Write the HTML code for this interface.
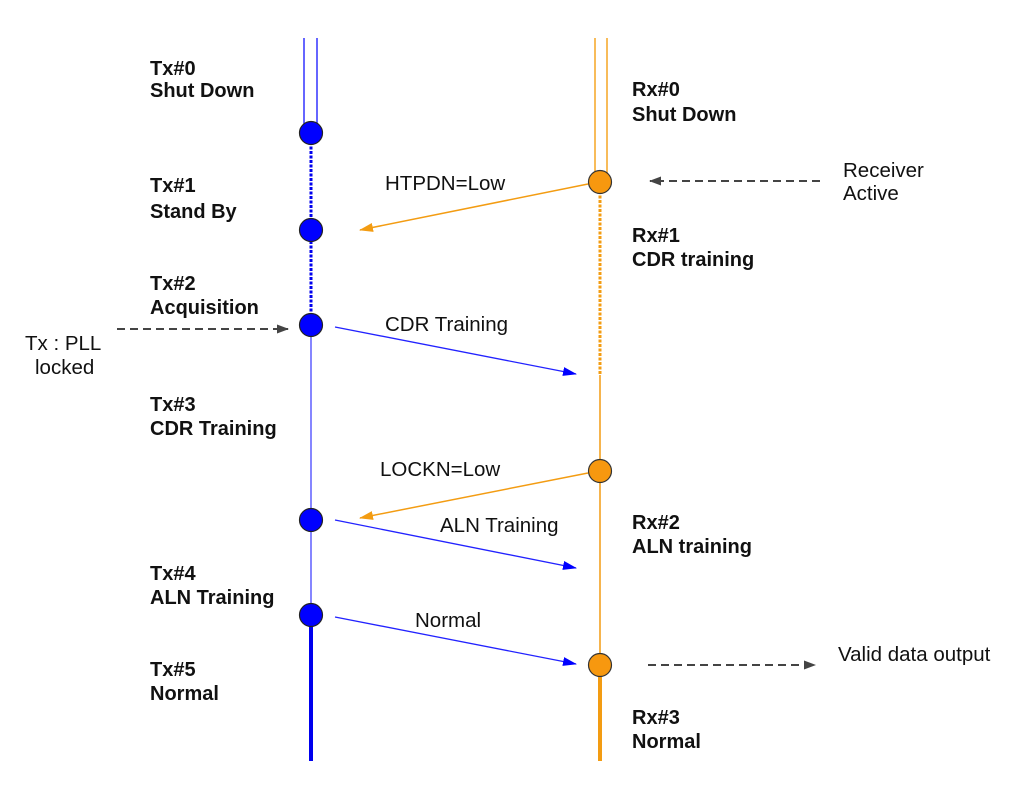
<!DOCTYPE html>
<html><head><meta charset="utf-8"><style>
html,body{margin:0;padding:0;background:#fff;}
svg{display:block;}
.b{font-family:"Liberation Sans",Arial,sans-serif;font-weight:bold;font-size:20px;fill:#111;}
.r{font-family:"Liberation Sans",Arial,sans-serif;font-size:20.5px;fill:#111;}
</style></head><body>
<svg width="1011" height="786" viewBox="0 0 1011 786" xmlns="http://www.w3.org/2000/svg">
<defs>
<marker id="ab" markerWidth="14" markerHeight="9" refX="13" refY="4.5" orient="auto" markerUnits="userSpaceOnUse" viewBox="0 0 14 9"><path d="M0,0 L14,4.5 L0,9 z" fill="#0000ff"/></marker>
<marker id="ao" markerWidth="14" markerHeight="9" refX="13" refY="4.5" orient="auto" markerUnits="userSpaceOnUse" viewBox="0 0 14 9"><path d="M0,0 L14,4.5 L0,9 z" fill="#f39c12"/></marker>
<marker id="ag" markerWidth="12" markerHeight="9" refX="11" refY="4.5" orient="auto" markerUnits="userSpaceOnUse" viewBox="0 0 12 9"><path d="M0,0 L12,4.5 L0,9 z" fill="#444"/></marker>
</defs>
<line x1="304" y1="38" x2="304" y2="133" stroke="#3333ff" stroke-width="1.5"/>
<line x1="317" y1="38" x2="317" y2="133" stroke="#3333ff" stroke-width="1.5"/>
<line x1="311" y1="133" x2="311" y2="325" stroke="#0000ee" stroke-width="3" stroke-dasharray="3,1.5"/>
<line x1="311" y1="325" x2="311" y2="615" stroke="#4444ff" stroke-width="1.3"/>
<line x1="311" y1="615" x2="311" y2="761" stroke="#0000ee" stroke-width="4"/>
<line x1="595" y1="38" x2="595" y2="182" stroke="#f5a623" stroke-width="1.5"/>
<line x1="607" y1="38" x2="607" y2="182" stroke="#f5a623" stroke-width="1.5"/>
<line x1="600" y1="182" x2="600" y2="375" stroke="#f39c12" stroke-width="3" stroke-dasharray="3,1.5"/>
<line x1="600" y1="375" x2="600" y2="665" stroke="#f39c12" stroke-width="1.5"/>
<line x1="600" y1="665" x2="600" y2="761" stroke="#f39c12" stroke-width="4"/>
<g fill="#0000ff" stroke="#222" stroke-width="1.2">
<circle cx="311" cy="133" r="11.5"/><circle cx="311" cy="230" r="11.5"/><circle cx="311" cy="325" r="11.5"/><circle cx="311" cy="520" r="11.5"/><circle cx="311" cy="615" r="11.5"/>
</g>
<g fill="#f7980f" stroke="#333" stroke-width="1.2">
<circle cx="600" cy="182" r="11.5"/><circle cx="600" cy="471" r="11.5"/><circle cx="600" cy="665" r="11.5"/>
</g>
<line x1="588" y1="184" x2="360" y2="230" stroke="#f39c12" stroke-width="1.5" marker-end="url(#ao)"/>
<line x1="335" y1="327" x2="576" y2="374" stroke="#2222ff" stroke-width="1.3" marker-end="url(#ab)"/>
<line x1="588" y1="473" x2="360" y2="518" stroke="#f39c12" stroke-width="1.5" marker-end="url(#ao)"/>
<line x1="335" y1="520" x2="576" y2="568" stroke="#2222ff" stroke-width="1.3" marker-end="url(#ab)"/>
<line x1="335" y1="617" x2="576" y2="664" stroke="#2222ff" stroke-width="1.3" marker-end="url(#ab)"/>
<line x1="820" y1="181" x2="650" y2="181" stroke="#444" stroke-width="2" stroke-dasharray="8,5" marker-end="url(#ag)"/>
<line x1="117" y1="329" x2="288" y2="329" stroke="#444" stroke-width="2" stroke-dasharray="8,5" marker-end="url(#ag)"/>
<line x1="648" y1="665" x2="815" y2="665" stroke="#444" stroke-width="2" stroke-dasharray="8,5" marker-end="url(#ag)"/>
<text class="b" x="150" y="75">Tx#0</text><text class="b" x="150" y="97">Shut Down</text>
<text class="b" x="150" y="192">Tx#1</text><text class="b" x="150" y="218">Stand By</text>
<text class="b" x="150" y="290">Tx#2</text><text class="b" x="150" y="314">Acquisition</text>
<text class="b" x="150" y="411">Tx#3</text><text class="b" x="150" y="435">CDR Training</text>
<text class="b" x="150" y="580">Tx#4</text><text class="b" x="150" y="604">ALN Training</text>
<text class="b" x="150" y="676">Tx#5</text><text class="b" x="150" y="700">Normal</text>
<text class="b" x="632" y="96">Rx#0</text><text class="b" x="632" y="121">Shut Down</text>
<text class="b" x="632" y="242">Rx#1</text><text class="b" x="632" y="266">CDR training</text>
<text class="b" x="632" y="529">Rx#2</text><text class="b" x="632" y="553">ALN training</text>
<text class="b" x="632" y="724">Rx#3</text><text class="b" x="632" y="748">Normal</text>
<text class="r" x="385" y="190">HTPDN=Low</text>
<text class="r" x="385" y="331">CDR Training</text>
<text class="r" x="380" y="476">LOCKN=Low</text>
<text class="r" x="440" y="532">ALN Training</text>
<text class="r" x="415" y="627">Normal</text>
<text class="r" x="843" y="177">Receiver</text><text class="r" x="843" y="200">Active</text>
<text class="r" x="25" y="350">Tx : PLL</text><text class="r" x="35" y="374">locked</text>
<text class="r" x="838" y="661">Valid data output</text>
</svg>
</body></html>
